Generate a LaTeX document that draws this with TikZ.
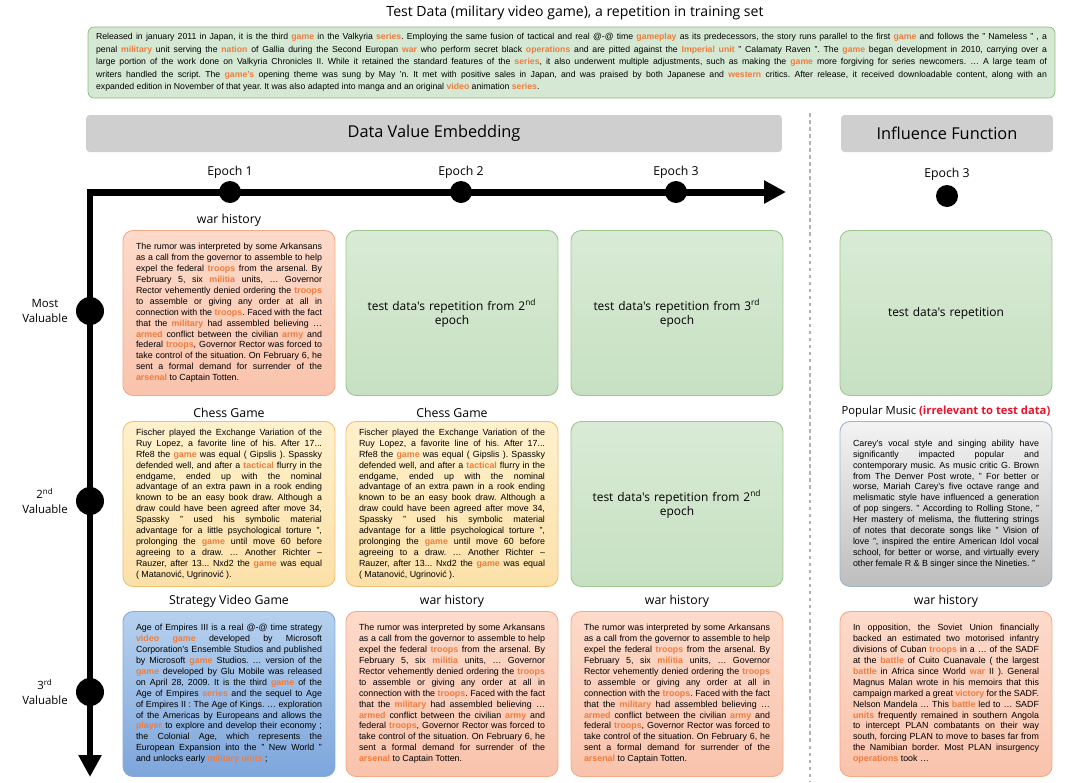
\documentclass[tikz,border=0pt]{standalone}
\usepackage{fontspec}
\setmainfont{Liberation Sans}
\newfontfamily\handfont{Open Sans}
\usepackage{xcolor}
\usetikzlibrary{arrows.meta,positioning}
\frenchspacing

\definecolor{kword}{HTML}{F07C3C}
\definecolor{alertred}{HTML}{E8132B}
\definecolor{testfill}{HTML}{D5E8D4}
\definecolor{testline}{HTML}{8CBB78}
\definecolor{headgray}{HTML}{CFCFCF}
\definecolor{wartop}{HTML}{FDDACA}
\definecolor{warbot}{HTML}{F9C3AC}
\definecolor{warline}{HTML}{F4AA86}
\definecolor{chesstop}{HTML}{FFF1CC}
\definecolor{chessbot}{HTML}{FCE0A8}
\definecolor{chessline}{HTML}{F2BE70}
\definecolor{gametop}{HTML}{B6D1EE}
\definecolor{gamebot}{HTML}{7EA6DC}
\definecolor{gameline}{HTML}{86AADA}
\definecolor{musictop}{HTML}{F3F3F3}
\definecolor{musicbot}{HTML}{BEBEBE}
\definecolor{musicline}{HTML}{9FB4CB}
\definecolor{reptop}{HTML}{D9EBD6}
\definecolor{repbot}{HTML}{C7E0C2}
\definecolor{repline}{HTML}{9CC78D}

\newcommand{\kw}[1]{\textcolor{kword}{\textbf{#1}}}
\newcommand{\nd}{\textsuperscript{nd}}
\newcommand{\rd}{\textsuperscript{rd}}
\newcommand{\bodysize}{\fontsize{5.05}{6.2}\selectfont}

\newcommand{\warrumor}{%
The rumor was interpreted by some Arkansans\linebreak
as a call from the governor to assemble to help\linebreak
expel the federal \kw{troops} from the arsenal. By\linebreak
February 5, six \kw{militia} units, … Governor\linebreak
Rector vehemently denied ordering the \kw{troops}\linebreak
to assemble or giving any order at all in\linebreak
connection with the \kw{troops}. Faced with the fact\linebreak
that the \kw{military} had assembled believing …\linebreak
\kw{armed} conflict between the civilian \kw{army} and\linebreak
federal \kw{troops}, Governor Rector was forced to\linebreak
take control of the situation. On February 6, he\linebreak
sent a formal demand for surrender of the\linebreak
\kw{arsenal} to Captain Totten.}

\newcommand{\chessgame}{%
Fischer played the Exchange Variation of the\linebreak
Ruy Lopez, a favorite line of his. After 17...\linebreak
Rfe8 the \kw{game} was equal ( Gipslis ). Spassky\linebreak
defended well, and after a \kw{tactical} flurry in the\linebreak
endgame, ended up with the nominal\linebreak
advantage of an extra pawn in a rook ending\linebreak
known to be an easy book draw. Although a\linebreak
draw could have been agreed after move 34,\linebreak
Spassky " used his symbolic material\linebreak
advantage for a little psychological torture ",\linebreak
prolonging the \kw{game} until move 60 before\linebreak
agreeing to a draw. … Another Richter –\linebreak
Rauzer, after 13... Nxd2 the \kw{game} was equal\linebreak
( Matanović, Ugrinović ).}

\tikzset{
  panel/.style={rounded corners=0.2cm, line width=0.5pt, text width=3.72cm,
    inner xsep=0.26cm, inner ysep=2pt, minimum height=3.3cm, align=justify, font=\bodysize},
  warpanel/.style={panel, draw=warline, top color=wartop, bottom color=warbot},
  chesspanel/.style={panel, draw=chessline, top color=chesstop, bottom color=chessbot},
  gamepanel/.style={panel, draw=gameline, top color=gametop, bottom color=gamebot},
  musicpanel/.style={panel, draw=musicline, top color=musictop, bottom color=musicbot},
  reppanel/.style={panel, draw=repline, top color=reptop, bottom color=repbot,
    align=center, font=\handfont\fontsize{6.8}{8}\selectfont},
  paneltitle/.style={font=\handfont\fontsize{7}{8}\selectfont, inner sep=1pt},
  header/.style={fill=headgray, rounded corners=2pt, minimum height=0.74cm,
    font=\handfont\fontsize{9.3}{11}\selectfont},
  testbox/.style={draw=testline, fill=testfill, rounded corners=0.12cm, text width=19.02cm,
    inner xsep=0.16cm, minimum height=1.42cm, align=justify, font=\fontsize{4.95}{7.1}\selectfont},
  bigdot/.style={circle, fill=black, inner sep=0pt, minimum size=0.56cm},
  epochdot/.style={circle, fill=black, inner sep=0pt, minimum size=0.44cm},
  axislabel/.style={font=\handfont\fontsize{6.5}{8.5}\selectfont, align=center},
  axis/.style={line width=0.14cm,
    {Triangle[length=0.44cm,width=0.44cm]}-{Triangle[length=0.44cm,width=0.44cm]}},
  divider/.style={draw=gray!60, line width=1.2pt, dash pattern=on 2pt off 2pt}
}

\begin{document}
\begin{tikzpicture}[x=0.02cm, y=-0.02cm]
\useasboundingbox (0,0) rectangle (1066,782);

% test sample on top
\node[font=\handfont\fontsize{8}{10}\selectfont] (title) at (575,13)
  {Test Data (military video game), a repetition in training set};
\node[testbox] (test) at (571.5,62.5) {%
Released in january 2011 in Japan, it is the third \kw{game} in the Valkyria \kw{series}. Employing the same fusion of tactical and real @-@ time \kw{gameplay} as its predecessors, the story runs parallel to the first \kw{game} and follows the " Nameless " , a\linebreak
penal \kw{military} unit serving the \kw{nation} of Gallia during the Second Europan \kw{war} who perform secret black \kw{operations} and are pitted against the \kw{Imperial unit} " Calamaty Raven ". The \kw{game} began development in 2010, carrying over a\linebreak
large portion of the work done on Valkyria Chronicles II. While it retained the standard features of the \kw{series}, it also underwent multiple adjustments, such as making the \kw{game} more forgiving for series newcomers. … A large team of\linebreak
writers handled the script. The \kw{game's} opening theme was sung by May 'n. It met with positive sales in Japan, and was praised by both Japanese and \kw{western} critics. After release, it received downloadable content, along with an\linebreak
expanded edition in November of that year. It was also adapted into manga and an original \kw{video} animation \kw{series}.};

% headers
\node[header, minimum width=13.92cm] (dve) at (434,133.5) {Data Value Embedding};
\node[header, minimum width=4.24cm] (inf) at (947,133.5) {Influence Function};
\draw[divider] (810,113) -- (810,782);

% axes
\coordinate (origin) at (90,192);
\coordinate (xend) at (786,192);
\coordinate (yend) at (90,777);
\draw[axis] (xend) -- (origin) -- (yend);

\foreach \x/\n in {230/1, 461/2, 676/3} {
  \node[epochdot] (ep\n) at (\x,192) {};
  \node[axislabel, font=\handfont\fontsize{7}{8}\selectfont] (eplab\n) at (\x,172) {Epoch \n};
}
\node[epochdot] (infep) at (947,196) {};
\node[axislabel, font=\handfont\fontsize{7}{8}\selectfont] (infeplab) at (947,174) {Epoch 3};

\node[bigdot] (val1) at (90,311) {};
\node[bigdot] (val2) at (90,501) {};
\node[bigdot] (val3) at (90,692) {};
\node[axislabel] (vallab1) at (45,311) {Most\\Valuable};
\node[axislabel] (vallab2) at (45,501) {2\nd\\Valuable};
\node[axislabel] (vallab3) at (45,692) {3\rd\\Valuable};

% first row
\node[warpanel] (p11) at (229,313) {\warrumor};
\node[reppanel] (p12) at (452,313) {test data's repetition from 2\nd\\epoch};
\node[reppanel] (p13) at (677,313) {test data's repetition from 3\rd\\epoch};
\node[reppanel] (p14) at (946,313) {test data's repetition};
\node[paneltitle, above=1pt of p11] (t11) {war history};

% second row
\node[chesspanel] (p21) at (229,504) {\chessgame};
\node[chesspanel] (p22) at (452,504) {\chessgame};
\node[reppanel] (p23) at (677,504) {test data's repetition from 2\nd\\epoch};
\node[musicpanel] (p24) at (946,504) {%
Carey's vocal style and singing ability have\linebreak
significantly impacted popular and\linebreak
contemporary music. As music critic G. Brown\linebreak
from The Denver Post wrote, " For better or\linebreak
worse, Mariah Carey's five octave range and\linebreak
melismatic style have influenced a generation\linebreak
of pop singers. " According to Rolling Stone, "\linebreak
Her mastery of melisma, the fluttering strings\linebreak
of notes that decorate songs like " Vision of\linebreak
love ", inspired the entire American Idol vocal\linebreak
school, for better or worse, and virtually every\linebreak
other female R \& B singer since the Nineties. "};
\node[paneltitle, above=1pt of p21] (t21) {Chess Game};
\node[paneltitle, above=1pt of p22] (t22) {Chess Game};
\node[paneltitle, above=1pt of p24, font=\handfont\fontsize{6.4}{8}\selectfont] (t24)
  {Popular Music \textcolor{alertred}{\bfseries(irrelevant to test data)}};

% third row
\node[gamepanel] (p31) at (229,694) {%
Age of Empires III is a real @-@ time strategy\linebreak
\kw{video game} developed by Microsoft\linebreak
Corporation's Ensemble Studios and published\linebreak
by Microsoft \kw{game} Studios. … version of the\linebreak
\kw{game} developed by Glu Mobile was released\linebreak
on April 28, 2009. It is the third \kw{game} of the\linebreak
Age of Empires \kw{series} and the sequel to Age\linebreak
of Empires II : The Age of Kings. … exploration\linebreak
of the Americas by Europeans and allows the\linebreak
\kw{player} to explore and develop their economy ;\linebreak
the Colonial Age, which represents the\linebreak
European Expansion into the " New World "\linebreak
and unlocks early \kw{military units} ;};
\node[warpanel] (p32) at (452,694) {\warrumor};
\node[warpanel] (p33) at (677,694) {\warrumor};
\node[warpanel] (p34) at (946,694) {%
In opposition, the Soviet Union financially\linebreak
backed an estimated two motorised infantry\linebreak
divisions of Cuban \kw{troops} in a … of the SADF\linebreak
at the \kw{battle} of Cuito Cuanavale ( the largest\linebreak
\kw{battle} in Africa since World \kw{war} II ). General\linebreak
Magnus Malan wrote in his memoirs that this\linebreak
campaign marked a great \kw{victory} for the SADF.\linebreak
Nelson Mandela … This \kw{battle} led to … SADF\linebreak
\kw{units} frequently remained in southern Angola\linebreak
to intercept PLAN combatants on their way\linebreak
south, forcing PLAN to move to bases far from\linebreak
the Namibian border. Most PLAN insurgency\linebreak
\kw{operations} took …};
\node[paneltitle, above=1pt of p31] (t31) {Strategy Video Game};
\node[paneltitle, above=1pt of p32] (t32) {war history};
\node[paneltitle, above=1pt of p33] (t33) {war history};
\node[paneltitle, above=1pt of p34] (t34) {war history};
\end{tikzpicture}
\end{document}
